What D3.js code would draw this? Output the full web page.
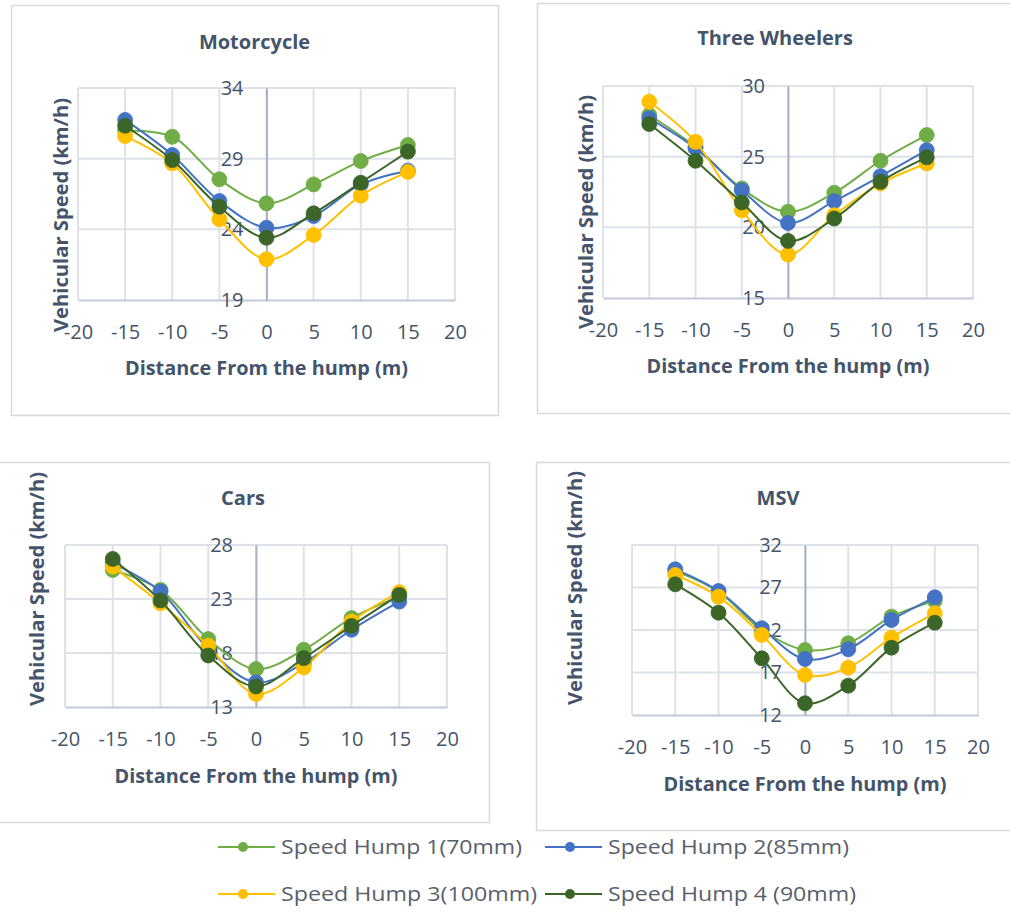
<!DOCTYPE html>
<html>
<head>
<meta charset="utf-8">
<script src="https://cdn.jsdelivr.net/npm/d3@7"></script>
<style>
  html, body { margin: 0; padding: 0; background: #ffffff; }
  svg { display: block; }
  text { font-family: "Open Sans", "Liberation Sans", sans-serif; }
</style>
</head>
<body>
<svg id="chart" width="1010" height="913"></svg>
<script>
// Distance from the hump (m) at which speeds were recorded
const distances = [-15, -10, -5, 0, 5, 10, 15];
const xTicks = [-20, -15, -10, -5, 0, 5, 10, 15, 20];

const seriesNames = [
  "Speed Hump 1(70mm)",
  "Speed Hump 2(85mm)",
  "Speed Hump 3(100mm)",
  "Speed Hump 4 (90mm)"
];

// Mean vehicular speed (km/h) per hump, per vehicle class
const motorcycleHump1 = [31.0, 30.55, 27.54, 25.84, 27.18, 28.83, 29.97];
const motorcycleHump2 = [31.74, 29.26, 26.0, 24.11, 24.94, 27.18, 28.15];
const motorcycleHump3 = [30.6, 28.67, 24.71, 21.88, 23.6, 26.38, 28.06];
const motorcycleHump4 = [31.33, 28.9, 25.6, 23.4, 25.13, 27.3, 29.5];
const motorcycleTicks = [19, 24, 29, 34];

const threeWheelerHump1 = [27.95, 25.7, 22.75, 21.1, 22.44, 24.71, 26.53];
const threeWheelerHump2 = [27.71, 25.6, 22.63, 20.31, 21.85, 23.62, 25.46];
const threeWheelerHump3 = [28.89, 26.05, 21.21, 18.07, 20.86, 23.1, 24.52];
const threeWheelerHump4 = [27.31, 24.71, 21.76, 19.04, 20.62, 23.22, 24.95];
const threeWheelerTicks = [15, 20, 25, 30];

const carHump1 = [25.69, 23.84, 19.29, 16.51, 18.3, 21.23, 23.22];
const carHump2 = [26.31, 23.69, 18.4, 15.28, 17.07, 20.15, 22.76];
const carHump3 = [26.0, 22.6, 18.67, 14.2, 16.66, 20.91, 23.63];
const carHump4 = [26.71, 22.86, 17.77, 14.9, 17.53, 20.51, 23.38];
const carTicks = [13, 18, 23, 28];

const msvHump1 = [28.94, 26.51, 22.0, 19.65, 20.43, 23.57, 25.45];
const msvHump2 = [29.14, 26.59, 22.2, 18.59, 19.73, 23.18, 25.85];
const msvHump3 = [28.47, 25.92, 21.41, 16.71, 17.57, 21.1, 23.96];
const msvHump4 = [27.38, 24.04, 18.67, 13.38, 15.45, 19.92, 22.86];
const msvTicks = [12, 17, 22, 27, 32];

const colors = ["#70AD47", "#4472C4", "#FFC000", "#3B6628"];
const textColor = "#44546A";

// Panel frames and plot areas
const panels = [
  { title: "Motorcycle", series: [motorcycleHump1, motorcycleHump2, motorcycleHump3, motorcycleHump4], ticks: motorcycleTicks,
    frame: [11, 5, 498, 415], plot: [78, 88, 455, 300], yTitle: [61, 215], xTitleY: 368, titleY: 42 },
  { title: "Three Wheelers", series: [threeWheelerHump1, threeWheelerHump2, threeWheelerHump3, threeWheelerHump4], ticks: threeWheelerTicks,
    frame: [537, 3, 1013, 413], plot: [603, 86, 973, 298], yTitle: [586, 212], xTitleY: 366, titleY: 38 },
  { title: "Cars", series: [carHump1, carHump2, carHump3, carHump4], ticks: carTicks,
    frame: [-3, 462, 489, 822], plot: [65, 545, 447, 707], yTitle: [37, 589], xTitleY: 776, titleY: 498 },
  { title: "MSV", series: [msvHump1, msvHump2, msvHump3, msvHump4], ticks: msvTicks,
    frame: [536, 462, 1020, 830], plot: [632, 545, 978, 715], yTitle: [575, 588], xTitleY: 784, titleY: 498 }
];

// plain hyphen-minus labels
const plainNumber = d => String(d);

const svg = d3.select("#chart");
svg.append("rect").attr("width", 1010).attr("height", 913).attr("fill", "#ffffff");

panels.forEach(p => {
  const [fx0, fy0, fx1, fy1] = p.frame;
  const [l, t, r, b] = p.plot;
  const g = svg.append("g");

  g.append("rect")
    .attr("x", fx0 + 0.5).attr("y", fy0 + 0.5)
    .attr("width", fx1 - fx0).attr("height", fy1 - fy0)
    .attr("fill", "#ffffff").attr("stroke", "#D9D9D9").attr("stroke-width", 1.5);

  const x = d3.scaleLinear().domain([-20, 20]).range([l, r]);
  const y = d3.scaleLinear().domain(d3.extent(p.ticks)).range([b, t]);

  // gridlines
  g.append("g").selectAll("line.v").data(xTicks).join("line")
    .attr("x1", d => x(d)).attr("x2", d => x(d))
    .attr("y1", t).attr("y2", b)
    .attr("stroke", "#DDE2E9").attr("stroke-width", 2);
  g.append("g").selectAll("line.h").data(p.ticks.slice(1)).join("line")
    .attr("x1", l).attr("x2", r)
    .attr("y1", d => y(d)).attr("y2", d => y(d))
    .attr("stroke", "#DDE2E9").attr("stroke-width", 2);

  // horizontal axis along the bottom
  const xAxis = g.append("g").attr("transform", `translate(0,${b})`)
    .call(d3.axisBottom(x).tickValues(xTicks).tickSize(0).tickPadding(25).tickFormat(plainNumber));
  xAxis.select(".domain").attr("stroke", "#C3CAD5").attr("stroke-width", 2);
  xAxis.selectAll("text").attr("fill", textColor).attr("font-size", 20);

  // vertical axis crossing at distance 0
  const yAxis = g.append("g").attr("transform", `translate(${x(0)},0)`)
    .call(d3.axisLeft(y).tickValues(p.ticks).tickSize(0).tickPadding(23).tickFormat(plainNumber));
  yAxis.select(".domain").attr("stroke", "#A9B3C4").attr("stroke-width", 2);
  yAxis.selectAll("text").attr("fill", textColor).attr("font-size", 20);

  // titles
  g.append("text")
    .attr("x", (fx0 + fx1) / 2).attr("y", p.titleY).attr("dy", "0.35em")
    .attr("text-anchor", "middle").attr("font-weight", 700).attr("font-size", 20)
    .attr("fill", textColor).text(p.title);
  g.append("text")
    .attr("x", (l + r) / 2).attr("y", p.xTitleY).attr("dy", "0.35em")
    .attr("text-anchor", "middle").attr("font-weight", 700).attr("font-size", 19)
    .attr("fill", textColor).attr("textLength", 283).attr("lengthAdjust", "spacingAndGlyphs")
    .text("Distance From the hump (m)");
  g.append("text")
    .attr("transform", `translate(${p.yTitle[0]},${p.yTitle[1]}) rotate(-90)`)
    .attr("dy", "0.35em")
    .attr("text-anchor", "middle").attr("font-weight", 700).attr("font-size", 19)
    .attr("fill", textColor).attr("textLength", 234).attr("lengthAdjust", "spacingAndGlyphs")
    .text("Vehicular Speed (km/h)");

  // smoothed lines with markers, one series at a time
  const line = d3.line()
    .x((d, i) => x(distances[i]))
    .y(d => y(d))
    .curve(d3.curveCatmullRom.alpha(0.5));

  p.series.forEach((vals, si) => {
    const s = g.append("g");
    s.append("path").attr("d", line(vals))
      .attr("fill", "none").attr("stroke", colors[si]).attr("stroke-width", 2);
    s.selectAll("circle").data(vals).join("circle")
      .attr("cx", (d, i) => x(distances[i])).attr("cy", d => y(d))
      .attr("r", 7.5).attr("fill", colors[si]).attr("stroke", colors[si]).attr("stroke-width", 0.8);
  });
});

// legend
const legendPos = [[218, 847], [545, 847], [218, 894], [545, 894]];
const legendWidths = [241, 241, 256, 248];
const legend = svg.append("g");
seriesNames.forEach((name, i) => {
  const [lx, ly] = legendPos[i];
  const e = legend.append("g").attr("transform", `translate(${lx},${ly})`);
  e.append("line").attr("x1", 0).attr("x2", 57).attr("y1", 0).attr("y2", 0)
    .attr("stroke", colors[i]).attr("stroke-width", 2);
  e.append("circle").attr("cx", 25).attr("cy", 0).attr("r", 5).attr("fill", colors[i]);
  e.append("text").attr("x", 63).attr("y", 0).attr("dy", "0.35em")
    .attr("font-size", 20).attr("fill", "#595F6B")
    .attr("textLength", legendWidths[i]).attr("lengthAdjust", "spacingAndGlyphs")
    .text(name);
});
</script>
</body>
</html>
